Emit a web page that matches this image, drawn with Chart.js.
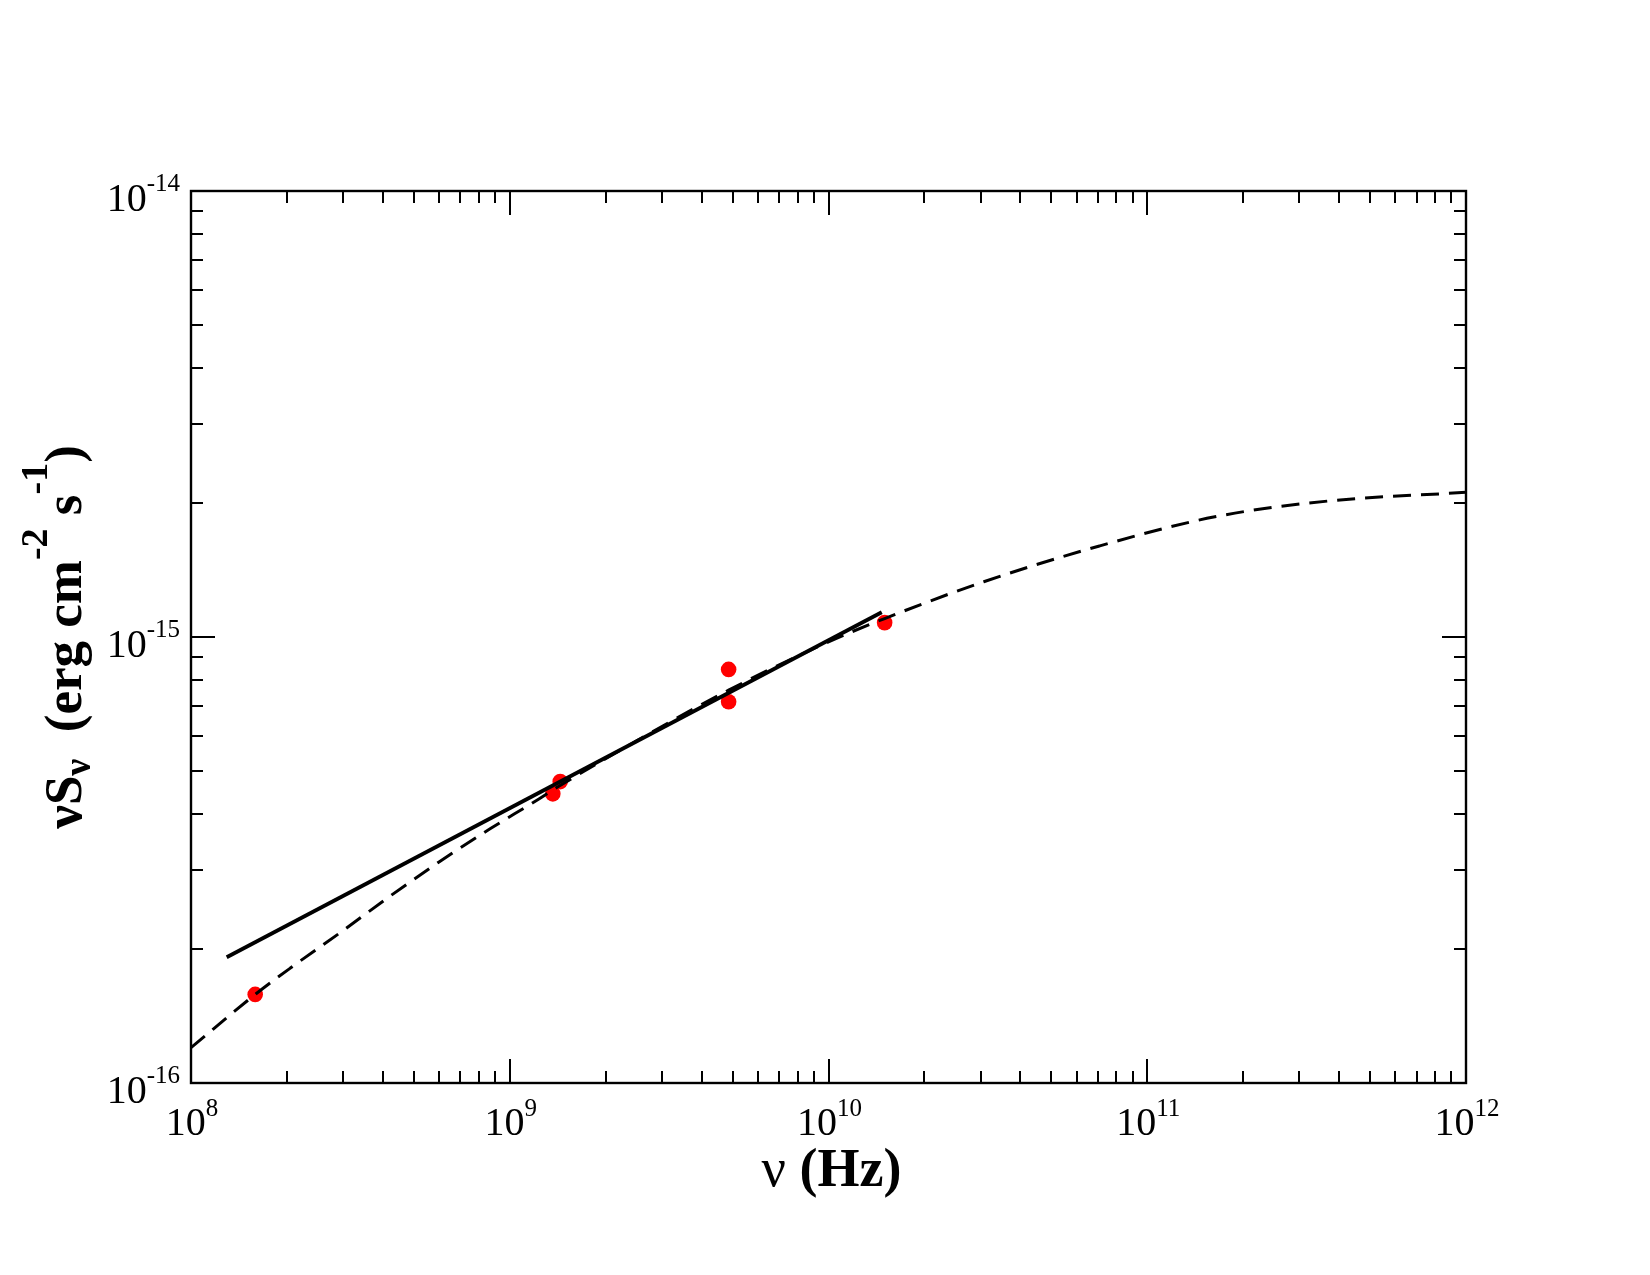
<!DOCTYPE html>
<html><head><meta charset="utf-8">
<script src="https://cdn.jsdelivr.net/npm/chart.js@4.4.1/dist/chart.umd.min.js"></script>
<style>html,body{margin:0;padding:0;background:#fff;} #wrap{width:1650px;height:1275px;position:relative;}</style>
</head><body><div id="wrap"><canvas id="c" width="1650" height="1275"></canvas></div>
<script>
// ---- data ----
const modelFreq = [1.0e8, 1.6e8, 2.05e8, 2.93e8, 4.2e8, 6.0e8, 8.7e8, 1.22e9, 1.4e9, 2.5e9, 4.86e9, 1.0e10, 1.5e10, 3.07e10, 7.08e10, 1.63e11, 3.75e11, 1.0e12];
const modelFlux = [1.20e-16, 1.585e-16, 1.81e-16, 2.17e-16, 2.62e-16, 3.13e-16, 3.72e-16, 4.31e-16, 4.59e-16, 5.85e-16, 7.6e-16, 9.75e-16, 1.10e-15, 1.33e-15, 1.60e-15, 1.86e-15, 2.02e-15, 2.11e-15];
const fitFreq = [1.294e8, 1.469e10];
const fitFlux = [1.914e-16, 1.136e-15];
const obsFreq = [1.59e8, 1.365e9, 1.44e9, 4.86e9, 4.86e9, 1.5e10];
const obsFlux = [1.58e-16, 4.45e-16, 4.74e-16, 8.46e-16, 7.16e-16, 1.077e-15];
const xDecades = [8, 9, 10, 11, 12];
const yDecades = [-16, -15, -14];

const toXY = (xs, ys) => xs.map((x, i) => ({x: x, y: ys[i]}));

const SERIF = '"Liberation Serif", "Times New Roman", serif';

function drawRich(ctx, segs, x, y, align) {
  let w = 0;
  segs.forEach(s => { ctx.font = s.font; s.w = ctx.measureText(s.t).width; w += s.w; });
  let cx = align === 'center' ? x - w / 2 : (align === 'right' ? x - w : x);
  ctx.textAlign = 'left';
  ctx.textBaseline = 'alphabetic';
  segs.forEach(s => { ctx.font = s.font; ctx.fillText(s.t, cx, y + (s.dy || 0)); cx += s.w; });
}

const framePlugin = {
  id: 'frame',
  afterDraw(chart) {
    const ctx = chart.ctx, xs = chart.scales.x, ys = chart.scales.y, a = chart.chartArea;
    ctx.save();
    ctx.strokeStyle = '#000';
    ctx.fillStyle = '#000';
    ctx.lineWidth = 2;
    ctx.lineCap = 'butt';
    const MAJ = 24, MIN = 12;
    ctx.beginPath();
    for (let i = 0; i < xDecades.length; i++) {
      for (let m = 1; m <= 9; m++) {
        if (i === xDecades.length - 1 && m > 1) break;
        const v = m * Math.pow(10, xDecades[i]);
        const px = Math.round(xs.getPixelForValue(v));
        const len = m === 1 ? MAJ : MIN;
        ctx.moveTo(px, a.bottom); ctx.lineTo(px, a.bottom - len);
        ctx.moveTo(px, a.top); ctx.lineTo(px, a.top + len);
      }
    }
    for (let i = 0; i < yDecades.length; i++) {
      for (let m = 1; m <= 9; m++) {
        if (i === yDecades.length - 1 && m > 1) break;
        const v = m * Math.pow(10, yDecades[i]);
        const py = Math.round(ys.getPixelForValue(v));
        const len = m === 1 ? MAJ : MIN;
        ctx.moveTo(a.left, py); ctx.lineTo(a.left + len, py);
        ctx.moveTo(a.right, py); ctx.lineTo(a.right - len, py);
      }
    }
    ctx.stroke();
    ctx.lineWidth = 2.4;
    ctx.strokeRect(a.left, a.top, a.right - a.left, a.bottom - a.top);

    // tick labels
    const big = '40px ' + SERIF, sup = '25px ' + SERIF;
    xDecades.forEach(d => {
      const px = xs.getPixelForValue(Math.pow(10, d));
      drawRich(ctx, [{t: '10', font: big}, {t: String(d), font: sup, dy: -19}], px + 1, a.bottom + 52, 'center');
    });
    yDecades.forEach(d => {
      const py = ys.getPixelForValue(Math.pow(10, d));
      drawRich(ctx, [{t: '10', font: big}, {t: String(d), font: sup, dy: -20}], a.left - 11, py + 20, 'right');
    });

    // x title
    const tb = 'bold 54px ' + SERIF, tn = '54px ' + SERIF;
    drawRich(ctx, [{t: 'ν', font: tn}, {t: ' (Hz)', font: tb}], (a.left + a.right) / 2 + 3, a.bottom + 103, 'center');

    // y title (rotated)
    ctx.save();
    ctx.translate(81, (a.top + a.bottom) / 2);
    ctx.rotate(-Math.PI / 2);
    const yb = 'bold 53px ' + SERIF, ysub = 'bold 38px ' + SERIF;
    drawRich(ctx, [
      {t: 'νS', font: yb},
      {t: 'ν', font: ysub, dy: 9},
      {t: '  (erg cm', font: yb},
      {t: '-2', font: ysub, dy: -34},
      {t: ' s', font: yb},
      {t: '-1', font: ysub, dy: -34},
      {t: ')', font: yb}
    ], 0, 0, 'center');
    ctx.restore();
    ctx.restore();
  }
};

new Chart(document.getElementById('c'), {
  type: 'scatter',
  data: {
    datasets: [
      {
        label: 'model', data: toXY(modelFreq, modelFlux), showLine: true,
        borderColor: '#000', borderWidth: 3, borderDash: [18, 10], pointRadius: 0,
        cubicInterpolationMode: 'monotone', order: 1
      },
      {
        label: 'fit', data: toXY(fitFreq, fitFlux), showLine: true,
        borderColor: '#000', borderWidth: 3.8, pointRadius: 0, order: 0
      },
      {
        label: 'obs', data: toXY(obsFreq, obsFlux), showLine: false,
        backgroundColor: '#ff0000', borderColor: '#ff0000', borderWidth: 0, pointRadius: 7.8, order: 2
      }
    ]
  },
  options: {
    responsive: false,
    animation: false,
    layout: { padding: { left: 191, top: 191, right: 184, bottom: 192 } },
    plugins: { legend: { display: false }, tooltip: { enabled: false } },
    scales: {
      x: { type: 'logarithmic', min: 1e8, max: 1e12, display: false },
      y: { type: 'logarithmic', min: 1e-16, max: 1e-14, display: false }
    }
  },
  plugins: [framePlugin]
});
</script>
</body></html>
